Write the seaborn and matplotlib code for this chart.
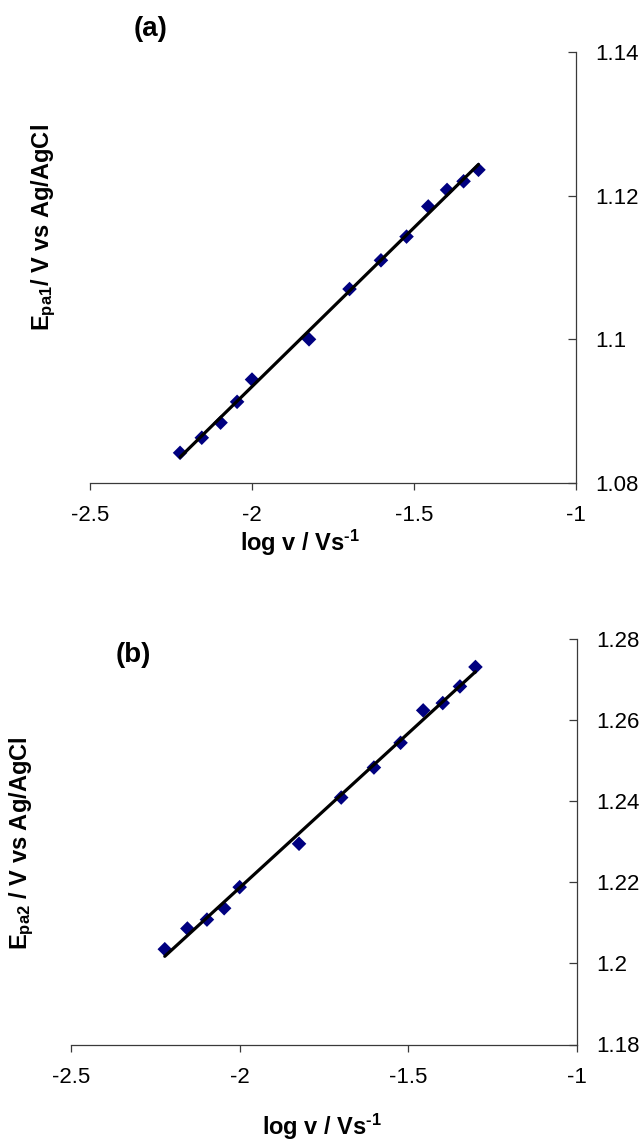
import numpy as np
import pandas as pd
import matplotlib
matplotlib.use("Agg")
import matplotlib.pyplot as plt
import seaborn as sns
from matplotlib.ticker import FuncFormatter, FixedLocator

# ---- data ----
log_v = [-2.222, -2.155, -2.097, -2.046, -2.000, -1.824, -1.699,
         -1.602, -1.523, -1.456, -1.398, -1.347, -1.301]
epa1 = [1.0842, 1.0863, 1.0884, 1.0913, 1.0944, 1.1000, 1.1070,
        1.1110, 1.1143, 1.1185, 1.1208, 1.1220, 1.1236]
epa2 = [1.2035, 1.2086, 1.2108, 1.2136, 1.2188, 1.2295, 1.2409,
        1.2483, 1.2544, 1.2624, 1.2642, 1.2683, 1.2731]
x_ticks = [-2.5, -2.0, -1.5, -1.0]
y_ticks_a = [1.08, 1.10, 1.12, 1.14]
y_ticks_b = [1.18, 1.20, 1.22, 1.24, 1.26, 1.28]

sns.set_theme(style="white")
plt.rcParams["font.family"] = ["Liberation Sans", "DejaVu Sans"]
plt.rcParams["mathtext.fontset"] = "custom"
plt.rcParams["mathtext.rm"] = "Liberation Sans:bold"
plt.rcParams["mathtext.bf"] = "Liberation Sans:bold"
plt.rcParams["mathtext.it"] = "Liberation Sans:bold"
plt.rcParams["text.color"] = "black"
plt.rcParams["xtick.labelcolor"] = "black"
plt.rcParams["ytick.labelcolor"] = "black"

W, H = 644, 1141
fig = plt.figure(figsize=(W / 100, H / 100), dpi=100)


def px_axes(l, r, t, b):
    return fig.add_axes([l / W, 1 - b / H, (r - l) / W, (b - t) / H])


def fmt(v, pos):
    return "{:g}".format(round(v, 4))


def style(ax, yticks):
    ax.set_xlim(x_ticks[0], x_ticks[-1])
    ax.set_ylim(yticks[0], yticks[-1])
    ax.xaxis.set_major_locator(FixedLocator(x_ticks))
    ax.yaxis.set_major_locator(FixedLocator(yticks))
    ax.xaxis.set_major_formatter(FuncFormatter(fmt))
    ax.yaxis.set_major_formatter(FuncFormatter(fmt))
    ax.yaxis.tick_right()
    for s in ["top", "left"]:
        ax.spines[s].set_visible(False)
    for s in ["bottom", "right"]:
        ax.spines[s].set_visible(True)
        ax.spines[s].set_color("#3a3a3a")
        ax.spines[s].set_linewidth(0.9)
    ax.tick_params(axis="x", direction="out", length=5, width=0.9,
                   color="#3a3a3a", labelsize=16, pad=11, bottom=True,
                   labelcolor="black")
    ax.tick_params(axis="y", direction="in", length=6, width=0.9,
                   color="#3a3a3a", labelsize=16, pad=14, right=True, left=False,
                   labelcolor="black")
    ax.set_xlabel("")
    ax.set_ylabel("")
    ax.grid(False)
    ax.set_facecolor("white")


def panel(ax, y):
    df = pd.DataFrame({"x": log_v, "y": y})
    sns.scatterplot(data=df, x="x", y="y", marker="D", s=55, color="#000080",
                    edgecolor="none", ax=ax, zorder=2, legend=False)
    sns.regplot(data=df, x="x", y="y", scatter=False, ci=None, truncate=True,
                color="black", line_kws={"lw": 2.3, "zorder": 3}, ax=ax)


ax1 = px_axes(90, 576, 52, 483)
panel(ax1, epa1)
style(ax1, y_ticks_a)

ax2 = px_axes(71, 577, 639, 1044.5)
panel(ax2, epa2)
style(ax2, y_ticks_b)

# texts
def ftext(x, y, s, **kw):
    fig.text(x / W, 1 - y / H, s, ha="center", va="center", color="black", **kw)

xlab = r"log v / Vs$^{\text{-1}}$"
ftext(151, 29, "(a)", fontsize=20, fontweight="bold")
ftext(133, 655, "(b)", fontsize=20, fontweight="bold")
ftext(44, 228, r"$\mathbf{E_{pa1}}$/ V vs Ag/AgCl", fontsize=17,
      fontweight="bold", rotation=90)
ftext(22, 843, r"$\mathbf{E_{pa2}}$ / V vs Ag/AgCl", fontsize=17,
      fontweight="bold", rotation=90)
ftext(300, 543, xlab, fontsize=17, fontweight="bold")
ftext(322, 1127, xlab, fontsize=17, fontweight="bold")

fig.savefig("out.png", dpi=100, facecolor="white")
